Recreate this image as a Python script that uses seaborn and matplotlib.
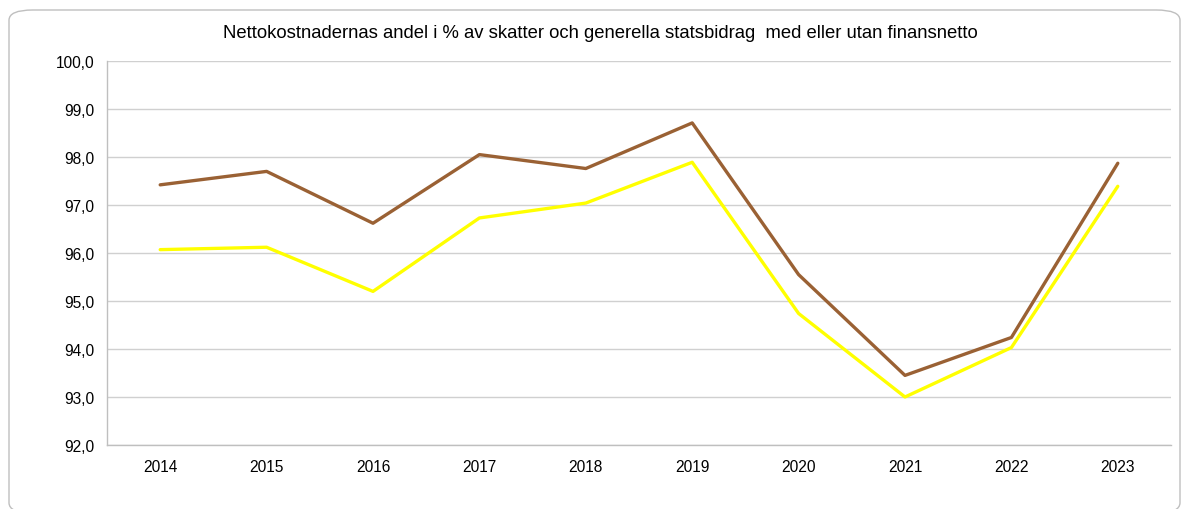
import pandas as pd
import matplotlib.pyplot as plt
import seaborn as sns
from matplotlib.patches import FancyBboxPatch

years = ["2014", "2015", "2016", "2017", "2018", "2019", "2020", "2021", "2022", "2023"]
utan_finansnetto = [97.42, 97.70, 96.62, 98.05, 97.76, 98.71, 95.55, 93.45, 94.24, 97.87]
med_finansnetto = [96.07, 96.12, 95.20, 96.73, 97.04, 97.89, 94.74, 93.00, 94.03, 97.39]
series_names = ["med finansnetto", "utan finansnetto"]
colors = ["#FFFF00", "#9A6134"]
yticks = [92, 93, 94, 95, 96, 97, 98, 99, 100]
title = "Nettokostnadernas andel i % av skatter och generella statsbidrag  med eller utan finansnetto"


def build_frame():
    df = pd.DataFrame({
        "year": years * 2,
        "value": med_finansnetto + utan_finansnetto,
        "serie": [series_names[0]] * len(years) + [series_names[1]] * len(years),
    })
    return df


sns.set_style("white")
plt.rcParams["font.family"] = ["Liberation Sans", "DejaVu Sans"]

W, H = 1183, 510
fig = plt.figure(figsize=(W / 100, H / 100), dpi=100)

# rounded frame like the Excel chart area (bottom edge runs just off the image)
frame = FancyBboxPatch((9 / W, -4 / H), (1171 / W), (503 / H),
                       boxstyle="round,pad=0,rounding_size=0.02",
                       transform=fig.transFigure, fill=False,
                       edgecolor="#BFBFBF", linewidth=1.0)
fig.patches.append(frame)

ax = fig.add_axes([107 / W, 1 - 446 / H, (1171 - 107) / W, (446 - 62) / H])

df = build_frame()
sns.lineplot(data=df, x="year", y="value", hue="serie", hue_order=series_names,
             palette=colors, linewidth=2.4, legend=False, ax=ax, sort=False)

ax.set_xlim(-0.5, len(years) - 0.5)
ax.set_ylim(92, 100)
ax.set_yticks(yticks)
ax.set_yticklabels([f"{v:.1f}".replace(".", ",") for v in yticks])
ax.set_xlabel("")
ax.set_ylabel("")
ax.grid(axis="y", color="#D0D0D0", linewidth=1.0)
ax.set_axisbelow(True)
for side in ["top", "right"]:
    ax.spines[side].set_visible(False)
for side in ["left", "bottom"]:
    ax.spines[side].set_color("#BFBFBF")
    ax.spines[side].set_linewidth(1.0)
ax.tick_params(axis="both", length=0, labelsize=11.2, colors="black")
ax.tick_params(axis="y", pad=9)
ax.tick_params(axis="x", pad=10)

fig.text(600 / W, 1 - 33 / H, title, ha="center", va="center",
         fontsize=13.3, color="black")

fig.savefig("out.png", dpi=100)
